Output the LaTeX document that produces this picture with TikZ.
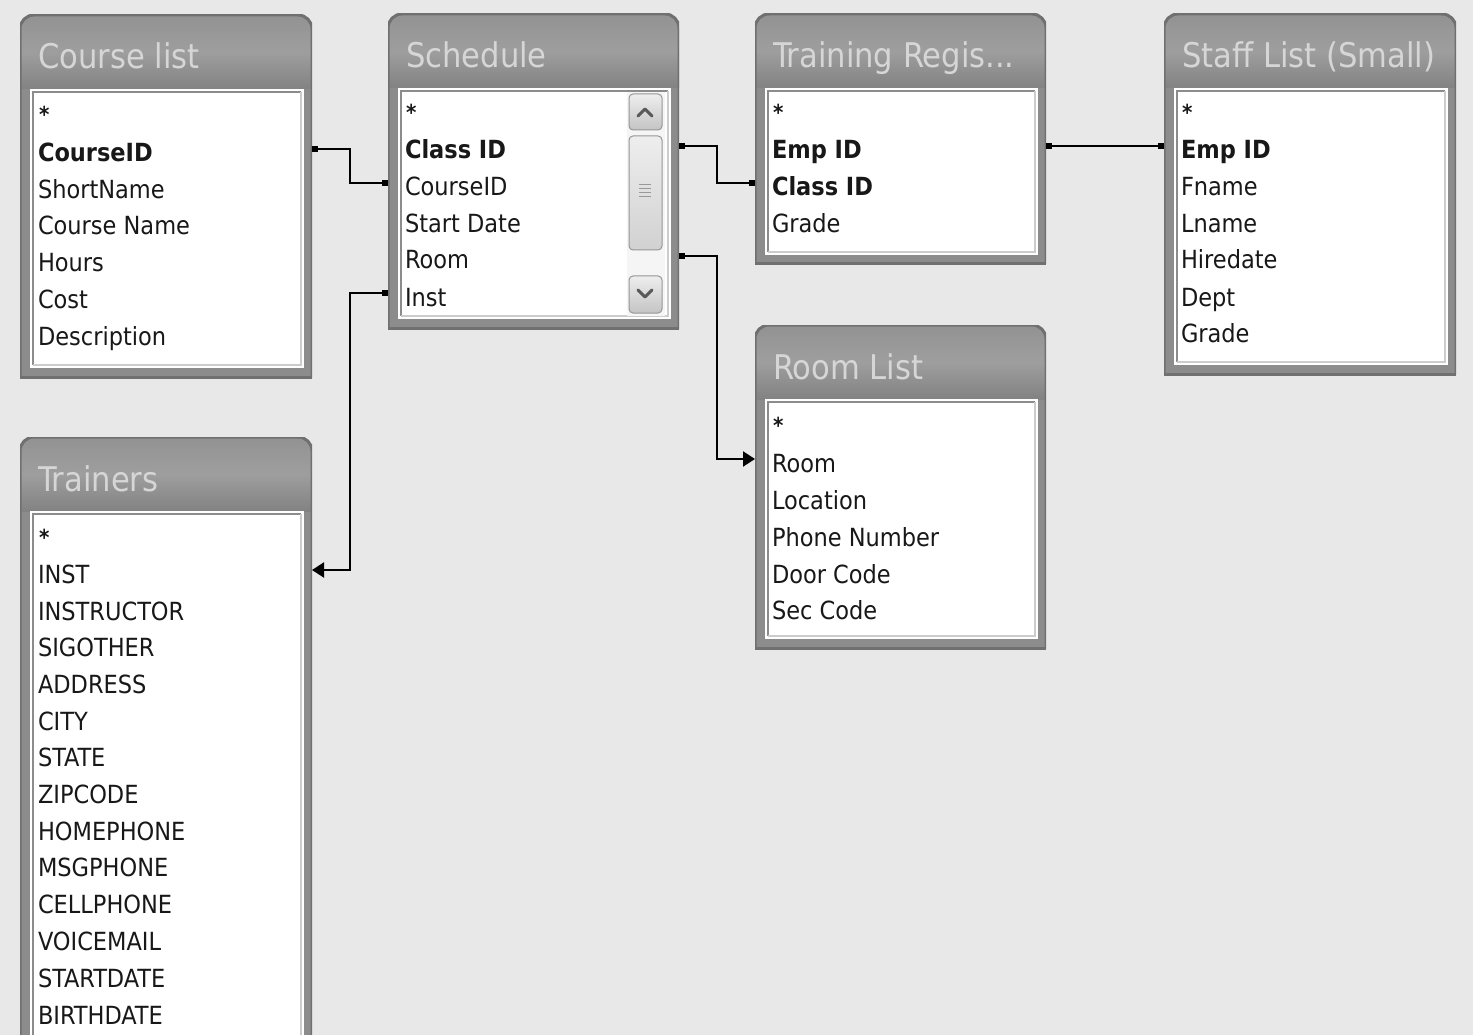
\documentclass[tikz,border=0pt]{standalone}
\usepackage{fontspec}
\setmainfont{DejaVu Sans Condensed}
\usetikzlibrary{arrows.meta}
\definecolor{bg}{RGB}{232,232,232}
\definecolor{framegray}{RGB}{140,140,140}
\definecolor{frameedge}{RGB}{112,112,112}
\definecolor{hdtop}{RGB}{146,146,146}
\definecolor{hdbot}{RGB}{130,130,130}
\definecolor{titlecol}{RGB}{214,214,214}
\definecolor{panelline}{RGB}{140,140,140}
\definecolor{btnborder}{RGB}{150,150,150}
\definecolor{btntop}{RGB}{238,238,238}
\definecolor{btnbot}{RGB}{196,196,196}
\definecolor{fieldcol}{RGB}{24,24,24}
\tikzset{
  tablebox/.style={rectangle, inner sep=0pt, outer sep=0pt},
  field/.style={inner sep=0pt, outer sep=0pt, text height=30pt, text depth=4pt,
    anchor=west, text=fieldcol, font=\fontsize{25}{30}\selectfont},
  keyfield/.style={field, font=\fontsize{25}{30}\selectfont\bfseries},
  starfield/.style={inner sep=0pt, anchor=base west, text=fieldcol, font=\fontsize{22}{26}\selectfont\bfseries},
  titletext/.style={inner sep=0pt, anchor=base west, text=titlecol, font=\fontsize{34}{40}\selectfont},
  link/.style={line width=2pt, black},
  dotend/.tip={Square[length=6pt,width=6pt]},
  arrowend/.tip={Triangle[length=12pt,width=15pt]},
  button/.style={draw=btnborder, line width=1pt, rounded corners=4pt, top color=btntop, bottom color=btnbot},
  chevron/.style={line width=3pt, draw=black!65, line cap=round, line join=round}
}
% name, x, y, w, h, title
\newcommand\dbtable[6]{%
  \node[tablebox, minimum width=#4pt, minimum height=#5pt, anchor=north west] (#1) at (#2,#3) {};
  \begin{scope}
    \clip[rounded corners=14pt] (#2,#3) rectangle ++(#4,#5+40);
    \fill[framegray] (#2,#3) rectangle ++(#4,#5);
    \shade[top color=hdtop, bottom color=hdbot, middle color=black!38] (#2,#3) rectangle ++(#4,74);
  \end{scope}
  \begin{scope}
    \clip (#2,#3) rectangle ++(#4,#5);
    \draw[frameedge, line width=3pt, rounded corners=14pt] (#2,#3) rectangle ++(#4,#5+40);
  \end{scope}
  \draw[frameedge, line width=3pt] (#2,#3+#5) -- ++(#4,0);
  \fill[white] (#2+10,#3+74) rectangle (#2+#4-8,#3+#5-9);
  \draw[panelline, line width=1.5pt] (#2+13,#3+#5-12) -- (#2+13,#3+77) -- (#2+#4-11,#3+77);
  \draw[black!20, line width=1.5pt] (#2+#4-11,#3+77) -- (#2+#4-11,#3+#5-12) -- (#2+13,#3+#5-12);
  \node[titletext] (#1-title) at (#2+18,#3+54) {#6};
}
\newcommand\fld[5][field]{\node[#1] (#2) at (#3,#4-4) {#5};}
\newcommand\starf[3]{\node[starfield] (#1) at (#2,#3+13) {*};}

\begin{document}
\begin{tikzpicture}[x=1pt,y=-1pt]
\useasboundingbox (0,0) rectangle (1473,1035);
\clip (0,0) rectangle (1473,1035);
\fill[bg] (0,0) rectangle (1473,1035);

% ---------- Course list ----------
\dbtable{cl}{20}{15}{292}{362}{Course list}
\starf{cl-star}{39}{110}
\fld[keyfield]{cl-cid}{38}{153}{CourseID}
\fld{cl-short}{38}{190}{ShortName}
\fld{cl-name}{38}{226}{Course Name}
\fld{cl-hours}{38}{263}{Hours}
\fld{cl-cost}{38}{299}{Cost}
\fld{cl-desc}{38}{336}{Description}

% ---------- Schedule ----------
\dbtable{sch}{388}{14}{291}{314}{Schedule}
\starf{sch-star}{406}{108}
\fld[keyfield]{sch-cls}{405}{150}{Class ID}
\fld{sch-cid}{405}{187}{CourseID}
\fld{sch-date}{405}{224}{Start Date}
\fld{sch-room}{405}{260}{Room}
\fld{sch-inst}{405}{297}{Inst}
% scrollbar
\fill[black!4] (627,92) rectangle (665,316);
\shade[button] (629,94) rectangle (662,130);
\draw[chevron] (638,116) -- (645,109) -- (652,116);
\shade[button, top color=btntop, bottom color=black!18] (629,136) rectangle (662,250);
\foreach \yy in {185,189,193,197} \draw[black!40, line width=1pt] (639,\yy) -- (651,\yy);
\shade[button] (629,276) rectangle (662,313);
\draw[chevron] (638,290) -- (645,297) -- (652,290);

% ---------- Training Regis... ----------
\dbtable{tra}{755}{14}{291}{250}{Training Regis...}
\starf{tra-star}{773}{108}
\fld[keyfield]{tra-emp}{772}{150}{Emp ID}
\fld[keyfield]{tra-cls}{772}{187}{Class ID}
\fld{tra-grade}{772}{224}{Grade}

% ---------- Staff List (Small) ----------
\dbtable{st}{1164}{14}{292}{360}{Staff List (Small)}
\starf{st-star}{1182}{108}
\fld[keyfield]{st-emp}{1181}{150}{Emp ID}
\fld{st-fname}{1181}{187}{Fname}
\fld{st-lname}{1181}{224}{Lname}
\fld{st-hire}{1181}{260}{Hiredate}
\fld{st-dept}{1181}{297}{Dept}
\fld{st-grade}{1181}{333}{Grade}

% ---------- Room List ----------
\dbtable{rl}{755}{325}{291}{323}{Room List}
\starf{rl-star}{773}{420}
\fld{rl-room}{772}{463}{Room}
\fld{rl-loc}{772}{500}{Location}
\fld{rl-phone}{772}{537}{Phone Number}
\fld{rl-door}{772}{574}{Door Code}
\fld{rl-sec}{772}{610}{Sec Code}

% ---------- Trainers ----------
\dbtable{tr}{20}{437}{292}{640}{Trainers}
\starf{tr-star}{39}{532}
\fld{tr-inst}{38}{574}{INST}
\fld{tr-instr}{38}{611}{INSTRUCTOR}
\fld{tr-sig}{38}{647}{SIGOTHER}
\fld{tr-addr}{38}{684}{ADDRESS}
\fld{tr-city}{38}{721}{CITY}
\fld{tr-state}{38}{757}{STATE}
\fld{tr-zip}{38}{794}{ZIPCODE}
\fld{tr-home}{38}{831}{HOMEPHONE}
\fld{tr-msg}{38}{867}{MSGPHONE}
\fld{tr-cell}{38}{904}{CELLPHONE}
\fld{tr-voice}{38}{941}{VOICEMAIL}
\fld{tr-start}{38}{978}{STARTDATE}
\fld{tr-birth}{38}{1015}{BIRTHDATE}

% ---------- Relationships ----------
\draw[link, {dotend}-{dotend}] (cl.east |- cl-cid) -- ++(38,0) |- (sch.west |- sch-cid);
\draw[link, {dotend}-{arrowend}] (sch.west |- sch-inst) -- ++(-38,0) |- (tr.east |- tr-inst);
\draw[link, {dotend}-{dotend}] (sch.east |- sch-cls) -- ++(38,0) |- (tra.west |- tra-cls);
\draw[link, {dotend}-{arrowend}] (sch.east |- sch-room) -- ++(38,0) |- (rl.west |- rl-room);
\draw[link, {dotend}-{dotend}] (tra.east |- tra-emp) -- (st.west |- st-emp);
\end{tikzpicture}
\end{document}
